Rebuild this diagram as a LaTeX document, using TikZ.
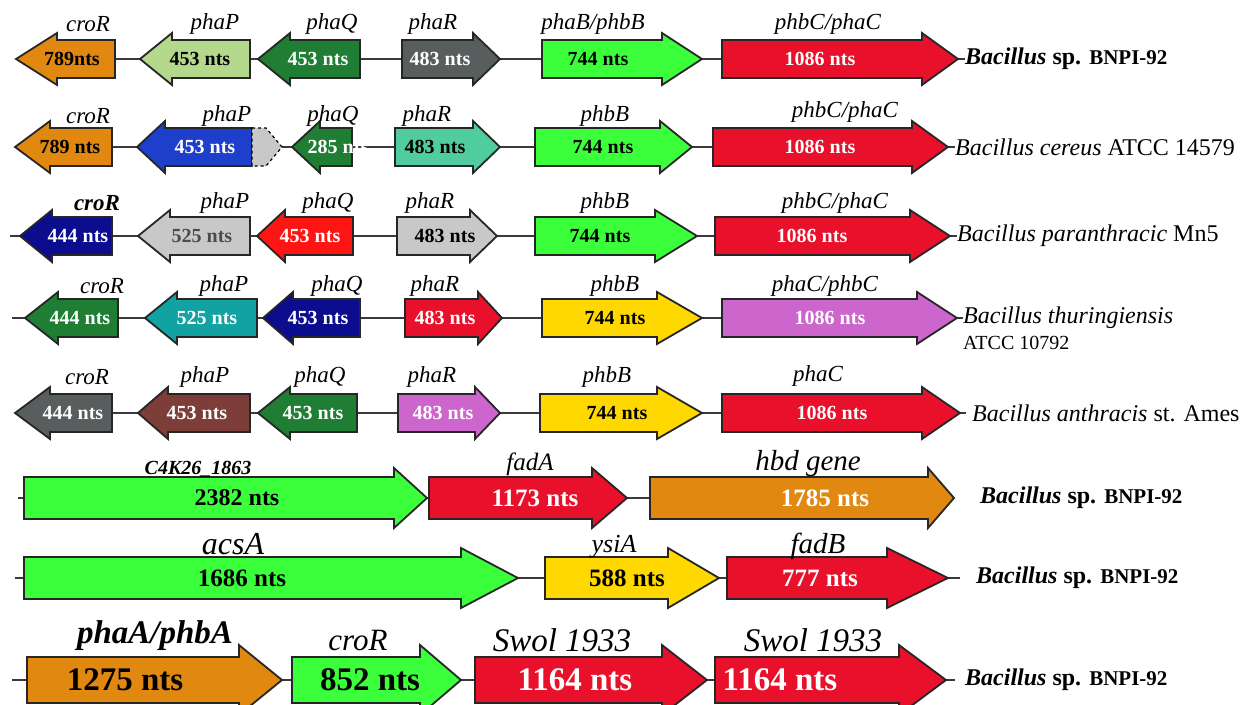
\documentclass[tikz,border=0pt]{standalone}
\usepackage{fontspec}
\setmainfont{Liberation Serif}
\pgfdeclarelayer{bg}
\pgfsetlayers{bg,main}
\definecolor{cOr}{HTML}{E0880F}
\definecolor{cLg}{HTML}{B5D98C}
\definecolor{cDg}{HTML}{1F7E34}
\definecolor{cGy}{HTML}{585E5E}
\definecolor{cGr}{HTML}{3CFF3C}
\definecolor{cRd}{HTML}{E8102A}
\definecolor{cBl}{HTML}{1E3FCC}
\definecolor{cAq}{HTML}{50CC9E}
\definecolor{cNv}{HTML}{0C0C8E}
\definecolor{cLy}{HTML}{C8C8C8}
\definecolor{cBr}{HTML}{FF1414}
\definecolor{cTe}{HTML}{12A2A2}
\definecolor{cOc}{HTML}{CC66CC}
\definecolor{cYe}{HTML}{FFD800}
\definecolor{cBn}{HTML}{7D3D38}
\definecolor{cLn}{HTML}{3A3A3A}
\tikzset{
  gene/.style={draw=black!85, line width=1.8pt, line join=miter},
  ntext/.style={font=\bfseries\fontsize{20}{20}\selectfont, inner sep=0pt},
  lab/.style={font=\itshape\fontsize{23}{23}\selectfont, inner sep=0pt},
  link/.style={draw=cLn, line width=1.8pt},
  spec/.style={anchor=west, inner sep=0pt, font=\fontsize{24}{24}\selectfont},
}
% right-pointing gene: name, x1, tip, y, headbase, fill, textcolour, text, textx
\newcommand\geneR[9]{%
  \draw[gene, fill=#6] (#2,{#4-\bh}) -- (#5,{#4-\bh}) -- (#5,{#4-\hh}) -- (#3,#4)
    -- (#5,{#4+\hh}) -- (#5,{#4+\bh}) -- (#2,{#4+\bh}) -- cycle;
  \coordinate (#1-L) at (#2,#4); \coordinate (#1-R) at (#3,#4);
  \node[ntext, text=#7] (#1) at (#9,#4) {#8};}
% left-pointing gene: name, tip, x2, y, headbase, fill, textcolour, text, textx
\newcommand\geneL[9]{%
  \draw[gene, fill=#6] (#3,{#4-\bh}) -- (#5,{#4-\bh}) -- (#5,{#4-\hh}) -- (#2,#4)
    -- (#5,{#4+\hh}) -- (#5,{#4+\bh}) -- (#3,{#4+\bh}) -- cycle;
  \coordinate (#1-L) at (#2,#4); \coordinate (#1-R) at (#3,#4);
  \node[ntext, text=#7] (#1) at (#9,#4) {#8};}
\newcommand\bnpi[1]{\textbf{\textit{Bacillus}} \textbf{sp.} \textbf{{\fontsize{#1}{#1}\selectfont BNPI-92}}}
\begin{document}
\begin{tikzpicture}[x=1pt,y=-1pt]
\useasboundingbox (0,0) rectangle (1255,704);
\clip (0,0) rectangle (1255,704);
\begin{pgfonlayer}{bg}\fill[white] (0,0) rectangle (1255,704);\end{pgfonlayer}

% ---------- Row 1
\def\bh{19}\def\hh{26}
\geneL{a1}{16}{115}{59}{57}{cOr}{black}{789nts}{72}
\geneL{b1}{140}{250}{59}{172}{cLg}{black}{453 nts}{200}
\geneL{c1}{258}{360}{59}{290}{cDg}{white}{453 nts}{318}
\geneR{d1}{402}{500}{59}{473}{cGy}{white}{483 nts}{440}
\geneR{e1}{542}{702}{59}{662}{cGr}{black}{744 nts}{598}
\geneR{f1}{722}{958}{59}{922}{cRd}{white}{1086 nts}{820}
\node[spec] (s1) at (965,59) {\bnpi{21}};
\node[lab] (l1a) at (88,24) {croR};
\node[lab] (l1b) at (215,24) {phaP};
\node[lab] (l1c) at (332,24) {phaQ};
\node[lab] (l1d) at (433,24) {phaR};
\node[lab] (l1e) at (593,24) {phaB/phbB};
\node[lab] (l1f) at (828,24) {phbC/phaC};

% ---------- Row 2
\geneL{a2}{15}{112}{147}{50}{cOr}{black}{789 nts}{70}
\geneL{b2}{137}{252}{147}{165}{cBl}{white}{453 nts}{205}
\draw[dashed, line width=1.2pt, fill=cLy] (252,128) -- (266,128) -- (282,147) -- (266,166) -- (252,166) -- cycle;
\coordinate (g2) at (282,147);
\geneL{c2}{292}{352}{147}{320}{cDg}{white}{285 nts}{338}
\geneR{d2}{395}{500}{147}{473}{cAq}{black}{483 nts}{435}
\geneR{e2}{535}{692}{147}{660}{cGr}{black}{744 nts}{603}
\geneR{f2}{713}{948}{147}{912}{cRd}{white}{1086 nts}{820}
\node[spec] (s2) at (955,147) {\textit{Bacillus cereus} ATCC 14579};
\node[lab] (l2a) at (88,116) {croR};
\node[lab] (l2b) at (227,116) {phaP};
\node[lab] (l2c) at (333,116) {phaQ};
\node[lab] (l2d) at (427,116) {phaR};
\node[lab] (l2e) at (605,116) {phbB};
\node[lab] (l2f) at (845,112) {phbC/phaC};

% ---------- Row 3
\geneL{a3}{20}{112}{236}{52}{cNv}{white}{444 nts}{78}
\geneL{b3}{138}{250}{236}{170}{cLy}{black!70}{525 nts}{202}
\geneL{c3}{257}{353}{236}{285}{cBr}{white}{453 nts}{310}
\geneR{d3}{397}{497}{236}{470}{cLy}{black}{483 nts}{445}
\geneR{e3}{535}{697}{236}{655}{cGr}{black}{744 nts}{600}
\geneR{f3}{715}{950}{236}{910}{cRd}{white}{1086 nts}{812}
\coordinate (t3) at (10,236);
\node[spec] (s3) at (957,236) {\textit{Bacillus paranthracic} Mn5};
\node[lab, font=\bfseries\itshape\fontsize{23}{23}\selectfont] (l3a) at (97,203) {croR};
\node[lab] (l3b) at (225,203) {phaP};
\node[lab] (l3c) at (328,203) {phaQ};
\node[lab] (l3d) at (430,203) {phaR};
\node[lab] (l3e) at (605,203) {phbB};
\node[lab] (l3f) at (835,203) {phbC/phaC};

% ---------- Row 4
\geneL{a4}{25}{118}{318}{58}{cDg}{white}{444 nts}{80}
\geneL{b4}{145}{257}{318}{177}{cTe}{white}{525 nts}{207}
\geneL{c4}{263}{360}{318}{293}{cNv}{white}{453 nts}{318}
\geneR{d4}{405}{502}{318}{478}{cRd}{white}{483 nts}{445}
\geneR{e4}{542}{702}{318}{657}{cYe}{black}{744 nts}{615}
\geneR{f4}{722}{957}{318}{917}{cOc}{white}{1086 nts}{830}
\coordinate (t4) at (12,318);
\node[spec] (s4) at (963,318) {\textit{Bacillus thuringiensis}};
\node[spec, font=\fontsize{20}{20}\selectfont] (s4b) at (963,343) {ATCC 10792};
\node[lab] (l4a) at (102,286) {croR};
\node[lab] (l4b) at (224,286) {phaP};
\node[lab] (l4c) at (337,286) {phaQ};
\node[lab] (l4d) at (435,286) {phaR};
\node[lab] (l4e) at (615,286) {phbB};
\node[lab] (l4f) at (825,286) {phaC/phbC};

% ---------- Row 5
\geneL{a5}{15}{112}{413}{50}{cGy}{white}{444 nts}{73}
\geneL{b5}{138}{250}{413}{168}{cBn}{white}{453 nts}{197}
\geneL{c5}{258}{357}{413}{290}{cDg}{white}{453 nts}{313}
\geneR{d5}{398}{500}{413}{475}{cOc}{white}{483 nts}{443}
\geneR{e5}{540}{702}{413}{657}{cYe}{black}{744 nts}{617}
\geneR{f5}{722}{960}{413}{922}{cRd}{white}{1086 nts}{832}
\coordinate (t5) at (966,413);
\node[spec] (s5) at (972,413) {\textit{Bacillus anthracis} st. Ames};
\node[lab] (l5a) at (87,377) {croR};
\node[lab] (l5b) at (205,377) {phaP};
\node[lab] (l5c) at (320,377) {phaQ};
\node[lab] (l5d) at (432,377) {phaR};
\node[lab] (l5e) at (607,377) {phbB};
\node[lab] (l5f) at (818,376) {phaC};

% ---------- Row 6
\def\bh{21}\def\hh{30}
\coordinate (t6) at (18,498);
\geneR{a6}{24}{427}{498}{394}{cGr}{black}{\fontsize{24}{24}\selectfont 2382 nts}{237}
\geneR{b6}{429}{627}{498}{592}{cRd}{white}{\fontsize{25}{25}\selectfont 1173 nts}{535}
\geneR{c6}{650}{954}{498}{928}{cOr}{white}{\fontsize{25}{25}\selectfont 1785 nts}{825}
\node[spec] (s6) at (980,498) {\bnpi{21}};
\node[lab, font=\bfseries\itshape\fontsize{20}{20}\selectfont] (l6a) at (198,469) {C4K26\_1863};
\node[lab, font=\itshape\fontsize{25}{25}\selectfont] (l6b) at (530,464) {fadA};
\node[lab, font=\itshape\fontsize{29}{29}\selectfont] (l6c) at (808,464) {hbd gene};

% ---------- Row 7
\coordinate (t7) at (15,578);
\geneR{a7}{24}{518}{578}{461}{cGr}{black}{\fontsize{25}{25}\selectfont 1686 nts}{242}
\geneR{b7}{545}{719}{578}{668}{cYe}{black}{\fontsize{25}{25}\selectfont 588 nts}{627}
\geneR{c7}{727}{948}{578}{887}{cRd}{white}{\fontsize{25}{25}\selectfont 777 nts}{820}
\coordinate (u7) at (960,578);
\node[spec] (s7) at (976,578) {\bnpi{21}};
\node[lab, font=\itshape\fontsize{32}{32}\selectfont] (l7a) at (233,544) {acsA};
\node[lab, font=\itshape\fontsize{26}{26}\selectfont] (l7b) at (614,547) {ysiA};
\node[lab, font=\itshape\fontsize{29}{29}\selectfont] (l7c) at (818,546) {fadB};

% ---------- Row 8
\def\bh{23}\def\hh{35}
\coordinate (t8) at (12,680);
\geneR{a8}{27}{282}{680}{239}{cOr}{black}{\fontsize{33}{33}\selectfont 1275 nts}{125}
\geneR{b8}{292}{461}{680}{420}{cGr}{black}{\fontsize{33}{33}\selectfont 852 nts}{370}
\geneR{c8}{475}{707}{680}{662}{cRd}{white}{\fontsize{33}{33}\selectfont 1164 nts}{575}
\geneR{d8}{715}{946}{680}{899}{cRd}{white}{\fontsize{33}{33}\selectfont 1164 nts}{780}
\coordinate (u8) at (955,680);
\node[spec] (s8) at (965,680) {\bnpi{21}};
\node[lab, font=\bfseries\itshape\fontsize{33}{33}\selectfont] (l8a) at (155,636) {phaA/phbA};
\node[lab, font=\itshape\fontsize{31}{31}\selectfont] (l8b) at (358,640) {croR};
\node[lab, font=\itshape\fontsize{33}{33}\selectfont] (l8c) at (562,640) {Swol 1933};
\node[lab, font=\itshape\fontsize{33}{33}\selectfont] (l8d) at (813,640) {Swol 1933};

% ---------- connectors
\begin{pgfonlayer}{bg}
\draw[link] (a1-R) -- (b1-L) (b1-R) -- (c1-L) (c1-R) -- (d1-L) (d1-R) -- (e1-L) (e1-R) -- (f1-L) (f1-R) -- (s1.west);
\draw[link] (a2-R) -- (b2-L) (g2) -- (c2-L) (c2-R) -- (d2-L) (d2-R) -- (e2-L) (e2-R) -- (f2-L) (f2-R) -- (s2.west);
\draw[link] (t3) -- (a3-L) (a3-R) -- (b3-L) (b3-R) -- (c3-L) (c3-R) -- (d3-L) (d3-R) -- (e3-L) (e3-R) -- (f3-L) (f3-R) -- (s3.west);
\draw[link] (t4) -- (a4-L) (a4-R) -- (b4-L) (b4-R) -- (c4-L) (c4-R) -- (d4-L) (d4-R) -- (e4-L) (e4-R) -- (f4-L) (f4-R) -- (s4.west);
\draw[link] (a5-R) -- (b5-L) (b5-R) -- (c5-L) (c5-R) -- (d5-L) (d5-R) -- (e5-L) (e5-R) -- (f5-L) (f5-R) -- (t5);
\draw[link] (t6) -- (a6-L) (a6-R) -- (b6-L) (b6-R) -- (c6-L);
\draw[link] (t7) -- (a7-L) (a7-R) -- (b7-L) (b7-R) -- (c7-L) (c7-R) -- (u7);
\draw[link] (t8) -- (a8-L) (a8-R) -- (b8-L) (b8-R) -- (c8-L) (c8-R) -- (d8-L) (d8-R) -- (u8);
\end{pgfonlayer}
\end{tikzpicture}
\end{document}
